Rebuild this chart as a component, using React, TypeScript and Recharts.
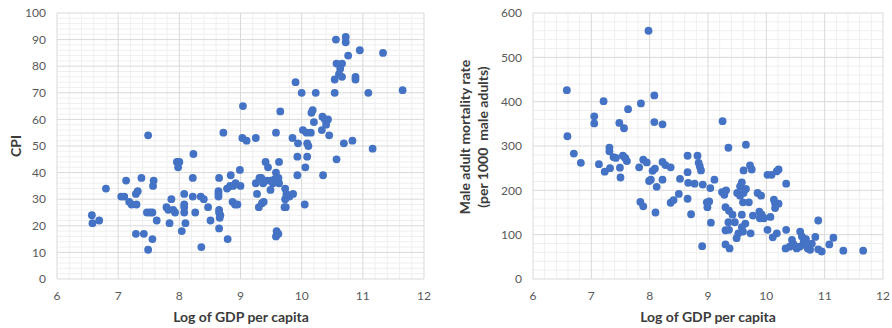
import React from 'react';
import { ScatterChart, Scatter, XAxis, YAxis, ReferenceLine } from 'recharts';

// Left chart: Log of GDP per capita vs CPI
const cpiGdp: number[] = [
  6.57, 6.58, 6.69, 6.80, 7.05, 7.10, 7.13, 7.18, 7.22, 7.30, 7.29, 7.32, 7.38, 7.29, 7.42,
  7.47, 7.52, 7.56, 7.58, 7.57, 7.56, 7.49, 7.63, 7.49, 7.79, 7.82, 7.84, 7.87, 7.90, 7.93,
  7.96, 8.00, 7.98, 8.04, 8.08, 8.08, 8.08, 8.08, 8.10, 8.22, 8.22, 8.26, 8.23, 8.35, 8.40,
  8.36, 8.47, 8.51, 8.65, 8.64, 8.64, 8.64, 8.65, 8.65, 8.67, 8.66, 8.65, 8.72, 8.79, 8.78,
  8.84, 8.83, 8.88, 8.92, 9.00, 8.99, 8.87, 8.91, 8.95, 9.03, 9.10, 9.04, 9.25, 9.25, 9.27,
  9.31, 9.34, 9.37, 9.43, 9.49, 9.56, 9.58, 9.62, 9.63, 9.41, 9.45, 9.53, 9.49, 9.30, 9.35,
  9.38, 9.63, 9.58, 9.65, 9.59, 9.62, 9.58, 9.73, 9.75, 9.80, 9.86, 9.73, 9.72, 9.74, 9.85,
  9.90, 9.94, 9.93, 9.93, 10.00, 10.02, 10.08, 10.15, 10.18, 10.16, 10.20, 10.23, 10.34, 10.38, 10.43,
  10.40, 10.33, 10.45, 10.09, 10.11, 10.09, 10.06, 10.05, 10.35, 10.57, 10.54, 10.56, 10.57, 10.54, 10.61,
  10.63, 10.66, 10.66, 10.72, 10.72, 10.76, 10.69, 10.83, 10.88, 10.88, 10.95, 11.09, 11.16, 11.33, 11.65,
];
const cpiValues: number[] = [
  24, 21, 22, 34, 31, 31, 37, 29, 28, 28, 32, 33, 38, 17, 17,
  25, 25, 25, 37, 35, 15, 11, 22, 54, 27, 26, 21, 30, 26, 25,
  44, 44, 42, 18, 32, 28, 27, 25, 21, 38, 31, 25, 47, 31, 30,
  12, 27, 22, 38, 33, 32, 31, 26, 25, 24, 23, 19, 55, 15, 34,
  39, 35, 35, 36, 35, 41, 29, 28, 28, 53, 52, 65, 53, 36, 32,
  38, 38, 36, 37, 37, 37.5, 40, 38, 36, 44, 42, 36, 33.5, 27, 28.5,
  29, 44, 55, 63, 18, 17, 16, 34, 32, 31, 32, 30, 27, 27, 53,
  74, 51, 46, 39, 70, 56, 55, 55, 63.5, 62.5, 59, 70, 61, 60, 60,
  58, 56, 54, 51, 50, 46, 42, 28, 39, 45, 70, 90, 81, 75, 77,
  79, 81, 76, 91, 89, 84, 51, 52, 76, 75, 86, 70, 49, 85, 71,
];

// Right chart: Log of GDP per capita vs male adult mortality rate
const mortGdp: number[] = [
  6.58, 6.59, 6.70, 6.82, 7.05, 7.05, 7.13, 7.21, 7.23, 7.31, 7.31, 7.32, 7.38, 7.42, 7.48,
  7.49, 7.50, 7.56, 7.54, 7.58, 7.61, 7.63, 7.82, 7.84, 7.85, 7.89, 7.89, 7.95, 7.98, 7.99,
  8.02, 8.05, 8.09, 8.08, 8.08, 8.10, 8.12, 8.22, 8.22, 8.22, 8.27, 8.36, 8.36, 8.41, 8.50,
  8.52, 8.65, 8.82, 8.65, 8.84, 8.86, 8.88, 8.65, 8.66, 8.77, 8.91, 8.71, 8.98, 9.02, 8.99,
  9.04, 9.05, 8.90, 9.11, 9.25, 9.35, 9.65, 9.24, 9.31, 9.28, 9.30, 9.36, 9.42, 9.35, 9.46,
  9.30, 9.36, 9.30, 9.37, 9.50, 9.55, 9.61, 9.65, 9.55, 9.58, 9.61, 9.72, 9.75, 9.60, 9.70,
  9.58, 9.64, 9.58, 9.52, 9.49, 9.60, 9.85, 9.91, 9.88, 9.92, 9.96, 9.89, 9.77, 9.73, 10.02,
  10.09, 10.18, 10.21, 10.34, 10.13, 10.15, 10.21, 10.15, 10.07, 10.02, 10.11, 10.18, 10.34, 10.33, 10.40,
  10.44, 10.47, 10.52, 10.58, 10.61, 10.64, 10.68, 10.71, 10.75, 10.78, 10.84, 10.89, 10.95, 10.89, 11.08,
  11.15, 11.32, 11.66, 10.57, 10.65,
];
const mortValues: number[] = [
  426, 322, 283, 262, 367, 351, 259, 401, 242, 296, 288, 250, 275, 273, 352,
  251, 229, 340, 278, 273, 266, 383, 252, 174, 396, 269, 164, 263, 560, 221,
  224, 244, 249, 414, 354, 150, 208, 349, 264, 224, 257, 252, 172, 178, 192,
  226, 278, 278, 241, 262, 254, 245, 181, 217, 215, 213, 146, 173, 175, 162,
  205, 127, 74, 224, 356, 296, 303, 196, 200, 190, 162, 154, 145, 128, 128,
  110, 111, 78, 69, 194, 188, 194, 203, 209, 218, 245, 256, 247, 173, 173,
  145, 125, 117, 103, 92, 107, 194, 188, 152, 145, 137, 137, 143, 103, 235,
  235, 243, 247, 215, 179, 171, 170, 160, 140, 111, 94, 103, 111, 69, 73,
  88, 78, 69, 107, 96, 84, 90, 69, 66, 80, 95, 132, 62, 67, 78,
  93, 64, 64, 73, 77,
];

const xTicks: number[] = [6, 7, 8, 9, 10, 11, 12];
const cpiTicks: number[] = [0, 10, 20, 30, 40, 50, 60, 70, 80, 90, 100];
const mortTicks: number[] = [0, 100, 200, 300, 400, 500, 600];

const xTitle = 'Log of GDP per capita';
const cpiTitle = 'CPI';
const mortTitle1 = 'Male adult mortality rate';
const mortTitle2 = '(per 1000  male adults)';

const cpiData = cpiGdp.map((x, i) => ({ x, y: cpiValues[i] }));
const mortData = mortGdp.map((x, i) => ({ x, y: mortValues[i] }));

const range = (a: number, b: number, step: number) => {
  const out: number[] = [];
  const n = Math.round((b - a) / step);
  for (let i = 0; i <= n; i++) out.push(Math.round((a + i * step) * 1000) / 1000);
  return out;
};

const FONT = 'Lato, "Liberation Sans", sans-serif';
const BLUE = '#4472C4';
const MAJOR = '#d9d9d9';
const MINOR = '#efefef';

const Dot = (props: any) => <circle cx={props.cx} cy={props.cy} r={3.9} fill={BLUE} />;

const tickStyle = { fill: '#595959', fontSize: 12, fontFamily: FONT };

function Panel({ data, yMax, yMinorStep, yTicks, width }: { data: any[]; yMax: number; yMinorStep: number; yTicks: number[]; width: number }) {
  const xMinor = range(6, 12, 0.2).filter((v) => Math.abs(v - Math.round(v)) > 1e-6);
  const yMinor = range(0, yMax, yMinorStep).filter((v) => !yTicks.includes(v));
  return (
    <ScatterChart width={width} height={328} margin={{ top: 13, right: 16, bottom: 19, left: 17 }}>
      <XAxis
        type="number"
        dataKey="x"
        domain={[6, 12]}
        ticks={xTicks}
        axisLine={false}
        tickLine={false}
        tickSize={6}
        tickMargin={6}
        height={30}
        tick={tickStyle}
        interval={0}
      />
      <YAxis
        type="number"
        dataKey="y"
        domain={[0, yMax]}
        ticks={yTicks}
        axisLine={false}
        tickLine={false}
        tickSize={6}
        tickMargin={5}
        width={40}
        tick={tickStyle}
        interval={0}
      />
      {yMinor.map((v) => (
        <ReferenceLine key={'ym' + v} y={v} stroke={MINOR} strokeWidth={1} ifOverflow="extendDomain" />
      ))}
      {xMinor.map((v) => (
        <ReferenceLine key={'xm' + v} x={v} stroke={MINOR} strokeWidth={1} ifOverflow="extendDomain" />
      ))}
      {yTicks.map((v) => (
        <ReferenceLine key={'yM' + v} y={v} stroke={MAJOR} strokeWidth={1} ifOverflow="extendDomain" />
      ))}
      {xTicks.map((v) => (
        <ReferenceLine key={'xM' + v} x={v} stroke={MAJOR} strokeWidth={1} ifOverflow="extendDomain" />
      ))}
      <Scatter data={data} shape={Dot} isAnimationActive={false} />
    </ScatterChart>
  );
}

const titleStyle: React.CSSProperties = {
  position: 'absolute',
  fontFamily: FONT,
  fontWeight: 700,
  fontSize: 14,
  color: '#3b3b3b',
  whiteSpace: 'pre',
  transform: 'translate(-50%, -50%)',
};

export default function App() {
  return (
    <div style={{ position: 'absolute', left: 0, top: 0, width: 892, height: 328, background: '#fff', overflow: 'hidden' }}>
      <div style={{ position: 'absolute', left: 0, top: 0 }}>
        <Panel data={cpiData} yMax={100} yMinorStep={2} yTicks={cpiTicks} width={440} />
      </div>
      <div style={{ position: 'absolute', left: 476, top: 0 }}>
        <Panel data={mortData} yMax={600} yMinorStep={20} yTicks={mortTicks} width={423} />
      </div>
      <div style={{ ...titleStyle, left: 241, top: 316 }}>{xTitle}</div>
      <div style={{ ...titleStyle, left: 708, top: 316 }}>{xTitle}</div>
      <div style={{ ...titleStyle, left: 15, top: 146, transform: 'translate(-50%, -50%) rotate(-90deg)' }}>{cpiTitle}</div>
      <div
        style={{
          ...titleStyle,
          left: 474,
          top: 137,
          textAlign: 'center',
          lineHeight: '18px',
          transform: 'translate(-50%, -50%) rotate(-90deg)',
        }}
      >
        {mortTitle1}
        {'\n'}
        {mortTitle2}
      </div>
    </div>
  );
}
